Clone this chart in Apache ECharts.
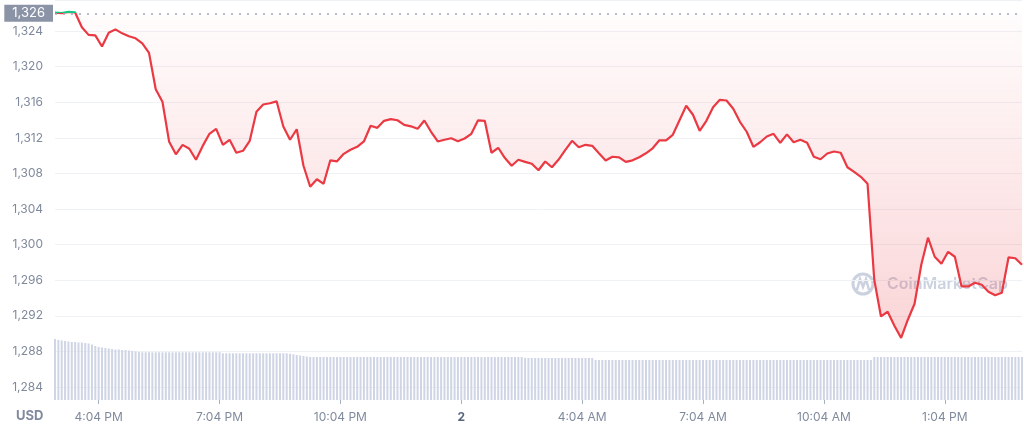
<!DOCTYPE html>
<html><head><meta charset="utf-8">
<script src="https://cdn.jsdelivr.net/npm/echarts@6/dist/echarts.min.js"></script>
<style>html,body{margin:0;padding:0;background:#fff}#c{width:1024px;height:433px}</style>
</head><body><div id="c"></div>
<script>
const openPrice = 1326;
// price every 10 minutes, from 2:59 PM to 2:59 PM next day
const price = [
1326.09,1326.02,1326.17,1326.1,1324.43,1323.58,1323.53,1322.27,1323.81,1324.2,
1323.75,1323.42,1323.2,1322.63,1321.56,1317.46,1316.06,1311.56,1310.16,1311.22,
1310.78,1309.54,1311.1,1312.46,1313.02,1311.22,1311.79,1310.33,1310.55,1311.67,
1314.93,1315.75,1315.89,1316.11,1313.28,1311.79,1312.97,1308.87,1306.51,1307.35,
1306.84,1309.48,1309.37,1310.21,1310.66,1311.0,1311.6,1313.36,1313.13,1313.92,
1314.11,1313.98,1313.47,1313.3,1313.02,1313.96,1312.69,1311.6,1311.79,1311.96,
1311.62,1311.93,1312.46,1313.98,1313.92,1310.33,1310.89,1309.73,1308.87,1309.54,
1309.31,1309.09,1308.36,1309.35,1308.7,1309.57,1310.66,1311.67,1310.94,1311.22,
1311.11,1310.27,1309.46,1309.88,1309.82,1309.31,1309.48,1309.82,1310.27,1310.83,
1311.73,1311.73,1312.35,1313.98,1315.61,1314.6,1312.8,1313.92,1315.44,1316.28,
1316.2,1315.27,1313.81,1312.69,1311.0,1311.51,1312.16,1312.46,1311.45,1312.4,
1311.51,1311.79,1311.45,1309.88,1309.6,1310.25,1310.47,1310.33,1308.7,1308.19,
1307.63,1306.84,1296.06,1291.93,1292.46,1290.89,1289.51,1291.56,1293.36,1297.74,
1300.78,1298.64,1297.85,1299.2,1298.64,1295.3,1295.3,1295.72,1295.49,1294.71,
1294.31,1294.6,1298.58,1298.47,1297.74
];
// volume every 5 minutes (relative units)
const volume = [
61,60,59.5,59,58.5,58,58,57.5,57.5,57,
56.5,55.5,54,53,52.5,52,51.5,51,50.5,50.5,
50,50,49.5,49,48.5,48,47.7,47.7,47.7,47.7,
47.7,47.7,47.7,47.7,47.7,47.7,47.7,47.7,47.7,47.7,
47.7,47.7,47.7,47.7,47.7,47.7,47.7,47.7,47.7,47.7,
46.7,46.7,46.7,46.7,46.7,46.7,46.7,46.7,46.7,46.7,
46.7,46.7,46.7,46.7,46.7,46.7,46.7,46.7,46.7,46.7,
46.2,45.7,45,44.5,44,43.5,43,43,43,43,
43,43,43,43,43,43,43,43,43,43,
43,43,43,43,43,43,43,43,43,43,
43,43,43,43,43,43,43,43,43,43,
43,43,43,43,43,43,43,43,43,43,
43,43,43,43,43,43,43,43,43,43,
43,43,43,43,43,43,43,43,43,43,
42,42,42,42,42,42,42,42,42,42,
42,42,42,42,42,42,42,42,42,42,
42,40,40,40,40,40,40,40,40,40,
40,40,40,40,40,40,40,40,40,40,
40,40,40,40,40,40,40,40,40,40,
40,40,40,40,40,40,40,40,40,40,
40,40,40,40,40,40,40,40,40,40,
40,40,40,40,40,40,40,40,40,40,
40,40,40,40,40,40,40,40,40,40,
40,40,40,40,40,40,40,40,40,40,
40,40,40,40,43,43,43,43,43,43,
43,43,43,43,43,43,43,43,43,43,
43,43,43,43,43,43,43,43,43,43,
43,43,43,43,43,43,43,43,43,43,
43,43,43,43,43,43,43,43,43
];
const tickTimes  = ['4:04 PM','7:04 PM','10:04 PM','1:04 AM','4:04 AM','7:04 AM','10:04 AM','1:04 PM'];
const tickLabels = ['4:04 PM','7:04 PM','10:04 PM','2','4:04 AM','7:04 AM','10:04 AM','1:04 PM'];

function fmt(d){let h=d.getHours(),m=d.getMinutes();const ap=h<12?'AM':'PM';h=h%12||12;return h+':'+String(m).padStart(2,'0')+' '+ap;}
function times(n, stepMin){const out=[];const s=new Date(2023,0,1,14,59);for(let i=0;i<n;i++){out.push(fmt(new Date(s.getTime()+i*stepMin*60000)));}return out;}
const priceTimes = times(price.length, 10);
const volTimes = times(volume.length, 5);

const chart = echarts.init(document.getElementById('c'));
const FONT = 'Inter, "Noto Sans", sans-serif';
chart.setOption({
  animation:false,
  textStyle:{fontFamily:FONT},
  grid:[{left:55,right:2,top:0,bottom:46},{left:55,right:2,top:300,bottom:33}],
  visualMap:{type:'piecewise',show:false,seriesIndex:0,dimension:1,
    pieces:[{gte:openPrice,lte:1400,color:'#16c784'},{gte:1200,lt:openPrice,color:'#ea3943'}]},
  xAxis:[
    {gridIndex:0,type:'category',data:priceTimes,boundaryGap:false,show:false},
    {gridIndex:1,type:'category',data:volTimes,boundaryGap:false,
      axisLine:{show:false},
      axisTick:{show:true,length:4,interval:(i,v)=>tickTimes.includes(v),lineStyle:{color:'#a6b0c3'}},
      axisLabel:{interval:(i,v)=>tickTimes.includes(v),color:'#808a9d',fontSize:12,margin:11,fontFamily:FONT,
        formatter:(v)=>{const k=tickTimes.indexOf(v);const t=tickLabels[k];return t==='2'?'{b|2}':t;},
        rich:{b:{fontWeight:'bold',color:'#58667e',fontSize:12,fontFamily:FONT}}},
      splitLine:{show:false}}
  ],
  yAxis:[
    {gridIndex:0,type:'value',min:1284,max:1327.5,interval:4,
      axisLine:{show:false},axisTick:{show:false},
      axisLabel:{color:'#808a9d',fontSize:12,margin:12,showMaxLabel:false,fontFamily:FONT,
        formatter:(v)=>v.toLocaleString('en-US')},
      splitLine:{lineStyle:{color:'#eff2f5',width:1}}},
    {gridIndex:1,type:'value',min:0,max:100,show:false,splitLine:{show:false}}
  ],
  graphic:[
    {type:'circle',shape:{cx:863,cy:284,r:10},style:{fill:'none',stroke:'rgba(190,198,215,0.8)',lineWidth:3},z:0},
    {type:'polyline',shape:{points:[[857,290],[860,279],[863,287],[866,279],[869,290]]},style:{fill:'none',stroke:'rgba(190,198,215,0.8)',lineWidth:2.5},z:0},
    {type:'text',left:887,top:276,style:{text:'CoinMarketCap',fill:'rgba(190,198,215,0.8)',fontSize:16,fontWeight:600,fontFamily:FONT},z:0},
    {type:'text',left:16,top:410,style:{text:'USD',fill:'#808a9d',fontSize:13,fontWeight:'bold',fontFamily:FONT}}
  ],
  series:[
    {type:'line',xAxisIndex:0,yAxisIndex:0,data:price,showSymbol:false,symbol:'none',
      lineStyle:{width:2.2},z:3,
      areaStyle:{origin:openPrice,color:new echarts.graphic.LinearGradient(0,0,0,1,[
        {offset:0,color:'rgba(234,57,67,0.02)'},{offset:1,color:'rgba(234,57,67,0.3)'}])},
      markLine:{symbol:'none',silent:true,animation:false,
        lineStyle:{type:[2,6],color:'#a1a7bb',width:1.5},
        label:{position:'start',formatter:'1,326',backgroundColor:'#8b93a7',color:'#fff',
          fontSize:13,padding:[2,8,2,8],distance:2,fontFamily:FONT},
        data:[{yAxis:openPrice}]}},
    {type:'bar',xAxisIndex:1,yAxisIndex:1,data:volume,barWidth:2,silent:true,
      itemStyle:{color:'#cfd5e5'},z:1}
  ]
});
</script></body></html>
